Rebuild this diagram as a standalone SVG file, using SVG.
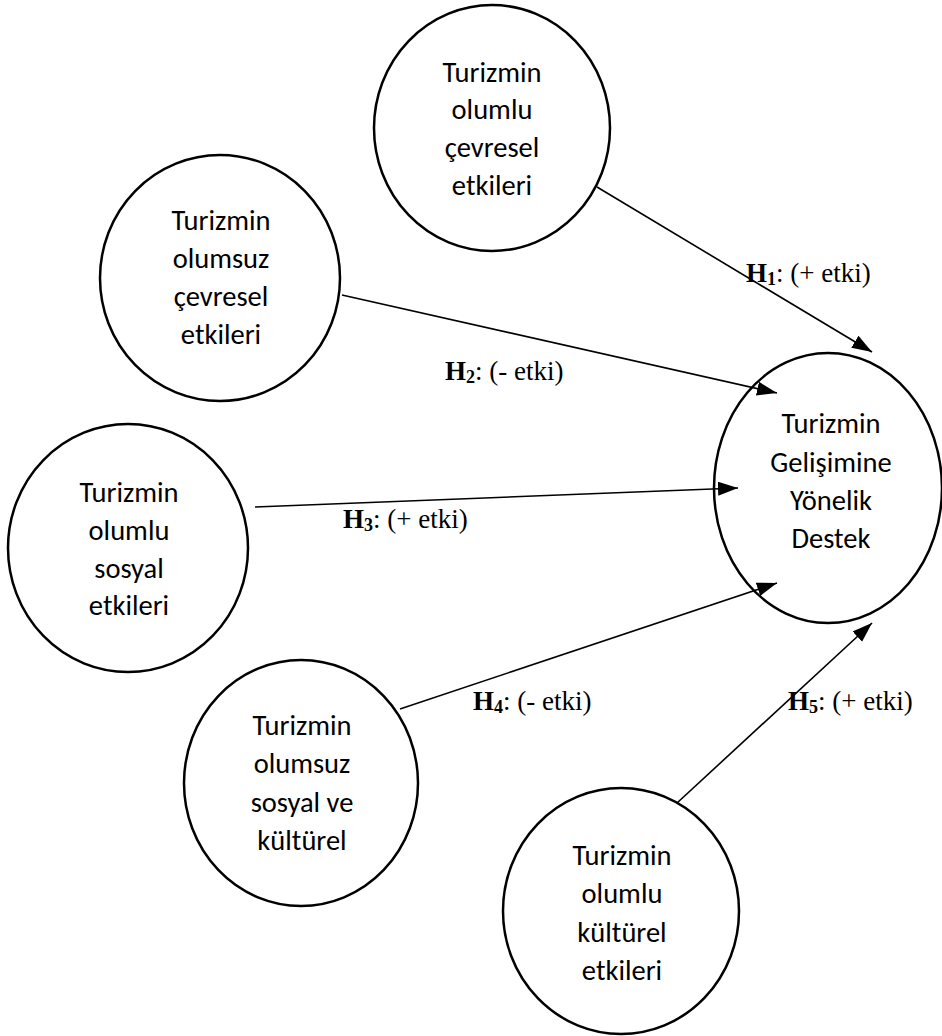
<svg xmlns="http://www.w3.org/2000/svg" width="942" height="1036" viewBox="0 0 942 1036">
<style>
.node ellipse{fill:#fff;stroke:#000;stroke-width:2.5}
.node text{font-family:Carlito,Lato,"Liberation Sans",sans-serif;font-size:28.5px;text-anchor:middle;fill:#000}
.conn line{stroke:#000;stroke-width:1.6}
.lbl{font-family:"Liberation Serif",serif;font-size:27px;fill:#000}
.lbl .h{font-weight:bold}
.lbl .s{font-weight:bold;font-size:18px}
</style>
<defs>
<marker id="arr" markerUnits="userSpaceOnUse" markerWidth="22" markerHeight="16" refX="20" refY="7" orient="auto">
<path d="M0,0 L20,7 L0,14 z" fill="#000"/>
</marker>
</defs>
<rect width="942" height="1036" fill="#fff"/>
<g id="n1" class="node">
<ellipse cx="492" cy="128" rx="118" ry="123"/>
<text x="492" y="82">Turizmin</text>
<text x="492" y="119">olumlu</text>
<text x="492" y="157">çevresel</text>
<text x="492" y="195">etkileri</text>
</g>
<g id="n2" class="node">
<ellipse cx="220" cy="278" rx="120" ry="123"/>
<text x="221" y="230">Turizmin</text>
<text x="221" y="268">olumsuz</text>
<text x="221" y="306">çevresel</text>
<text x="221" y="344">etkileri</text>
</g>
<g id="n3" class="node">
<ellipse cx="128" cy="548" rx="120" ry="124"/>
<text x="129" y="502">Turizmin</text>
<text x="129" y="540">olumlu</text>
<text x="129" y="578">sosyal</text>
<text x="129" y="615">etkileri</text>
</g>
<g id="n4" class="node">
<ellipse cx="301" cy="783" rx="117" ry="123"/>
<text x="302" y="735">Turizmin</text>
<text x="302" y="773">olumsuz</text>
<text x="302" y="812">sosyal ve</text>
<text x="302" y="850">kültürel</text>
</g>
<g id="n5" class="node">
<ellipse cx="621" cy="911" rx="118" ry="123"/>
<text x="622" y="865">Turizmin</text>
<text x="622" y="903">olumlu</text>
<text x="622" y="942">kültürel</text>
<text x="622" y="980">etkileri</text>
</g>
<g id="n6" class="node">
<ellipse cx="828" cy="488" rx="114" ry="135"/>
<text x="831" y="433">Turizmin</text>
<text x="831" y="472">Gelişimine</text>
<text x="831" y="510">Yönelik</text>
<text x="831" y="548">Destek</text>
</g>
<g id="connectors" class="conn">
<line x1="597" y1="187" x2="872" y2="352" marker-end="url(#arr)"/>
<line x1="342" y1="295" x2="777" y2="393" marker-end="url(#arr)"/>
<line x1="255" y1="507" x2="738" y2="488" marker-end="url(#arr)"/>
<line x1="400" y1="709" x2="777" y2="583" marker-end="url(#arr)"/>
<line x1="677" y1="803" x2="872" y2="623" marker-end="url(#arr)"/>
</g>
<g id="labels">
<text class="lbl" x="746" y="282"><tspan class="h">H</tspan><tspan class="s" dy="3">1</tspan><tspan dy="-3">: (+ etki)</tspan></text>
<text class="lbl" x="445" y="380"><tspan class="h">H</tspan><tspan class="s" dy="3">2</tspan><tspan dy="-3">: (- etki)</tspan></text>
<text class="lbl" x="343" y="528"><tspan class="h">H</tspan><tspan class="s" dy="3">3</tspan><tspan dy="-3">: (+ etki)</tspan></text>
<text class="lbl" x="473" y="710"><tspan class="h">H</tspan><tspan class="s" dy="3">4</tspan><tspan dy="-3">: (- etki)</tspan></text>
<text class="lbl" x="788" y="710"><tspan class="h">H</tspan><tspan class="s" dy="3">5</tspan><tspan dy="-3">: (+ etki)</tspan></text>
</g>
</svg>
